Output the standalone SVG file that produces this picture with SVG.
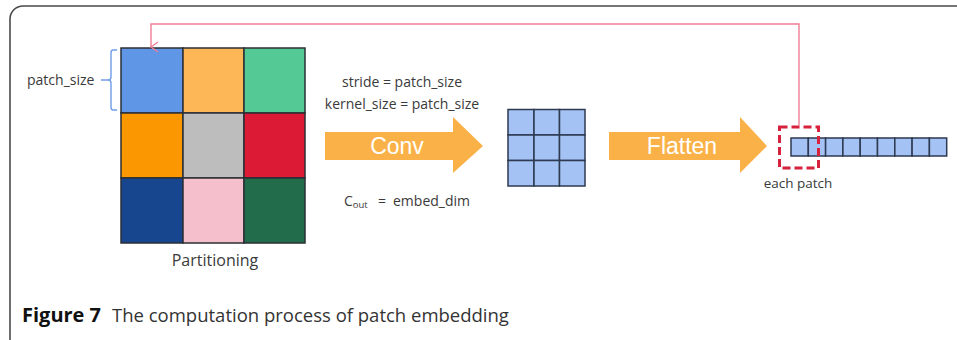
<svg xmlns="http://www.w3.org/2000/svg" width="957" height="340" viewBox="0 0 957 340">
  <style>
    .lbl { font-family: "Open Sans", "Noto Sans", sans-serif; fill: #3a3a3a; }
    .arrowtxt { font-family: "Liberation Sans", Arial, sans-serif; fill: #ffffff; font-size: 23px; text-anchor: middle; }
    .cell { stroke: #2b2f36; stroke-width: 1.5; }
    .small { fill: #a4c2f4; stroke: #2d3a50; stroke-width: 1.5; }
    .fat { fill: #fab248; }
  </style>
  <defs>
    <marker id="openHead" markerWidth="12" markerHeight="12" refX="6" refY="10" orient="auto-start-reverse" markerUnits="userSpaceOnUse" viewBox="0 0 12 12">
      <path d="M1 3 L6 10 L11 3" fill="none" stroke="#ef7f93" stroke-width="1.4"/>
    </marker>
  </defs>

  <rect width="957" height="340" fill="#ffffff"/>
  <!-- figure frame -->
  <rect x="10" y="6" width="990" height="350" rx="13" fill="none" stroke="#4a4a4a" stroke-width="1.6"/>

  <!-- input image split into patches -->
  <g id="input-grid">
    <rect class="cell" x="121" y="48" width="62" height="65" fill="#5f96e6"/>
    <rect class="cell" x="183" y="48" width="61" height="65" fill="#fdb756"/>
    <rect class="cell" x="244" y="48" width="61" height="65" fill="#54c995"/>
    <rect class="cell" x="121" y="113" width="62" height="65" fill="#fb9700"/>
    <rect class="cell" x="183" y="113" width="61" height="65" fill="#bdbdbd"/>
    <rect class="cell" x="244" y="113" width="61" height="65" fill="#dc1a36"/>
    <rect class="cell" x="121" y="178" width="62" height="65" fill="#17468e"/>
    <rect class="cell" x="183" y="178" width="61" height="65" fill="#f5c0cb"/>
    <rect class="cell" x="244" y="178" width="61" height="65" fill="#226b4b"/>
    <text class="lbl" x="215" y="266" font-size="16" text-anchor="middle">Partitioning</text>
  </g>

  <!-- patch size brace -->
  <g id="patch-size">
    <path d="M117 50 H113 Q111 50 111 53 V77 Q111 80 108 80 Q111 80 111 83 V107 Q111 110 113 110 H117 M108 80 H101" fill="none" stroke="#6e9de6" stroke-width="1.4"/>
    <text class="lbl" x="27" y="85" font-size="14">patch_size</text>
  </g>

  <!-- convolution step -->
  <g id="conv">
    <text class="lbl" x="402" y="87" font-size="14" text-anchor="middle">stride = patch_size</text>
    <text class="lbl" x="402" y="109" font-size="14" text-anchor="middle">kernel_size = patch_size</text>
    <path class="fat" d="M325 132 H453 V117 L483 146 L453 173 V160 H325 Z"/>
    <text class="arrowtxt" x="397" y="154">Conv</text>
    <text class="lbl" x="344" y="206" font-size="14">C<tspan font-size="9.5" dy="2">out</tspan></text>
    <text class="lbl" x="378" y="206" font-size="14">=</text>
    <text class="lbl" x="393" y="206" font-size="14">embed_dim</text>
  </g>

  <!-- feature map -->
  <g id="feature-map">
    <rect class="small" x="508" y="109.5" width="26" height="25.5"/>
    <rect class="small" x="534" y="109.5" width="25.5" height="25.5"/>
    <rect class="small" x="559.5" y="109.5" width="25.5" height="25.5"/>
    <rect class="small" x="508" y="135" width="26" height="25.5"/>
    <rect class="small" x="534" y="135" width="25.5" height="25.5"/>
    <rect class="small" x="559.5" y="135" width="25.5" height="25.5"/>
    <rect class="small" x="508" y="160.5" width="26" height="25.5"/>
    <rect class="small" x="534" y="160.5" width="25.5" height="25.5"/>
    <rect class="small" x="559.5" y="160.5" width="25.5" height="25.5"/>
  </g>

  <!-- flatten step -->
  <g id="flatten">
    <path class="fat" d="M609 132 H740 V117 L767 146 L740 173 V160 H609 Z"/>
    <text class="arrowtxt" x="682" y="154">Flatten</text>
  </g>

  <!-- flattened sequence of patches -->
  <g id="sequence">
    <rect class="small" x="791" y="138" width="17.3" height="18"/>
    <rect class="small" x="808.3" y="138" width="17.3" height="18"/>
    <rect class="small" x="825.6" y="138" width="17.3" height="18"/>
    <rect class="small" x="842.9" y="138" width="17.3" height="18"/>
    <rect class="small" x="860.2" y="138" width="17.3" height="18"/>
    <rect class="small" x="877.5" y="138" width="17.3" height="18"/>
    <rect class="small" x="894.8" y="138" width="17.3" height="18"/>
    <rect class="small" x="912.1" y="138" width="17.3" height="18"/>
    <rect class="small" x="929.4" y="138" width="17.3" height="18"/>
    <rect x="779.5" y="127" width="39" height="41" fill="none" stroke="#d8213c" stroke-width="3" stroke-dasharray="8 4"/>
    <text class="lbl" x="798" y="188" font-size="13.5" text-anchor="middle">each patch</text>
  </g>

  <!-- feedback connector -->
  <g id="connectors">
    <path d="M799 126 V24 H151 V47" fill="none" stroke="#ef7f93" stroke-width="1.4" marker-end="url(#openHead)"/>
  </g>

  <!-- caption -->
  <g id="caption">
    <text x="22" y="322" font-family="'Open Sans', 'Noto Sans', sans-serif" font-size="18.5" fill="#111111"><tspan font-weight="bold" font-size="20">Figure 7</tspan><tspan x="112" fill="#333333">The computation process of patch embedding</tspan></text>
  </g>
</svg>
